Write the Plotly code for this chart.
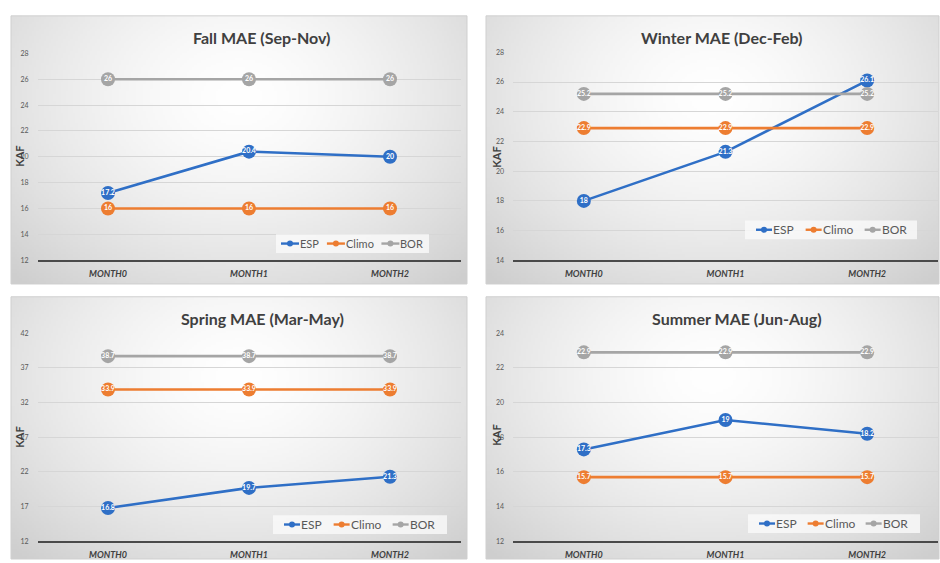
import base64
import struct
import zlib

import numpy as np
import plotly.graph_objects as go

# ---- data -------------------------------------------------------------
categories = ["MONTH0", "MONTH1", "MONTH2"]

fall_esp = [17.2, 20.4, 20]
fall_climo = [16, 16, 16]
fall_bor = [26, 26, 26]

winter_esp = [18, 21.3, 26.1]
winter_climo = [22.9, 22.9, 22.9]
winter_bor = [25.2, 25.2, 25.2]

spring_esp = [16.8, 19.7, 21.3]
spring_climo = [33.9, 33.9, 33.9]
spring_bor = [38.7, 38.7, 38.7]

summer_esp = [17.3, 19, 18.2]
summer_climo = [15.7, 15.7, 15.7]
summer_bor = [22.9, 22.9, 22.9]

series_names = ["ESP", "Climo", "BOR"]
series_colors = ["#2F6FC6", "#ED7D31", "#A5A5A5"]
# approximate text width of each legend label, in em
label_em = {"ESP": 1.72, "Climo": 2.5, "BOR": 1.92}

W, H = 940, 563
FONT = "Lato"


def px(x):
    return x / W


def py(y):
    return 1 - y / H


# ---- radial gradient used as panel background -------------------------
def gradient_png(w=188, h=112, edge=206):
    yy, xx = np.mgrid[0:h, 0:w]
    dx = (xx / (w - 1) - 0.5) / 0.72
    dy = (yy / (h - 1) - 0.3) / 0.95
    t = np.clip(np.sqrt(dx ** 2 + dy ** 2), 0, 1)
    val = (255 - (255 - edge) * t ** 1.5).astype(np.uint8)
    raw = b"".join(b"\x00" + bytes(np.repeat(row, 3)) for row in val)

    def chunk(tag, data):
        c = struct.pack(">I", len(data)) + tag + data
        return c + struct.pack(">I", zlib.crc32(tag + data) & 0xFFFFFFFF)

    png = b"\x89PNG\r\n\x1a\n"
    png += chunk(b"IHDR", struct.pack(">IIBBBBB", w, h, 8, 2, 0, 0, 0))
    png += chunk(b"IDAT", zlib.compress(raw, 9))
    png += chunk(b"IEND", b"")
    return "data:image/png;base64," + base64.b64encode(png).decode()


bg_src = gradient_png()

# panel geometry in pixels
panels = [
    dict(title="Fall MAE (Sep-Nov)", data=(fall_esp, fall_climo, fall_bor),
         box=(11, 11, 467, 283), xd=(37.5, 460.5), yd=(49, 259),
         tpos=(262, 33), kaf=(20, 154), yr=(12, 28), dt=2,
         leg=dict(box=(276, 429), yc=242, start=281, sym=18, fs=11, gap=9)),
    dict(title="Winter MAE (Dec-Feb)", data=(winter_esp, winter_climo, winter_bor),
         box=(486, 11, 939, 283), xd=(513, 938), yd=(48, 259),
         tpos=(722, 33), kaf=(497, 155), yr=(14, 28), dt=2,
         leg=dict(box=(745, 917), yc=228, start=756, sym=16, fs=12, gap=13)),
    dict(title="Spring MAE (Mar-May)", data=(spring_esp, spring_climo, spring_bor),
         box=(11, 296, 467, 562), xd=(37.5, 460.5), yd=(333, 544),
         tpos=(262, 318), kaf=(20, 439), yr=(12, 42), dt=5,
         leg=dict(box=(273, 447), yc=527, start=284, sym=16, fs=12, gap=13)),
    dict(title="Summer MAE (Jun-Aug)", data=(summer_esp, summer_climo, summer_bor),
         box=(486, 296, 939, 562), xd=(513, 938), yd=(333, 544),
         tpos=(737, 318), kaf=(497, 437), yr=(12, 24), dt=2,
         leg=dict(box=(748, 920), yc=526, start=759, sym=16, fs=12, gap=12)),
]

fig = go.Figure()
annotations = []
shapes = []
images = []
layout_axes = {}

for i, p in enumerate(panels):
    n = i + 1
    xa = "x" if n == 1 else f"x{n}"
    ya = "y" if n == 1 else f"y{n}"
    xkey = "xaxis" if n == 1 else f"xaxis{n}"
    ykey = "yaxis" if n == 1 else f"yaxis{n}"

    # plotted series
    for vals, name, color in zip(p["data"], series_names, series_colors):
        fig.add_trace(go.Scatter(
            x=categories, y=vals, name=name, xaxis=xa, yaxis=ya,
            mode="lines+markers+text", showlegend=False,
            line=dict(color=color, width=2.6),
            marker=dict(color=color, size=14),
            texttemplate="%{y}", textposition="middle center",
            textfont=dict(family=FONT, size=7, color="white", weight="bold"),
            cliponaxis=False, hoverinfo="x+y+name",
        ))

    ylo, yhi = p["yr"]
    layout_axes[xkey] = dict(
        domain=[px(p["xd"][0]), px(p["xd"][1])], anchor=ya,
        type="category", range=[-0.5, 2.5], fixedrange=True,
        tickvals=categories,
        ticktext=[f"<b><i>{c}</i></b>" for c in categories],
        tickfont=dict(family=FONT, size=9, color="#404040"),
        showgrid=False, showline=True, linecolor="#4a4a4a", linewidth=2,
        ticks="", zeroline=False, ticklabelstandoff=4,
    )
    layout_axes[ykey] = dict(
        domain=[py(p["yd"][1]), py(p["yd"][0])], anchor=xa,
        range=[ylo, yhi], dtick=p["dt"], tick0=ylo, fixedrange=True,
        tickfont=dict(family=FONT, size=7, color="#595959"),
        showgrid=True, gridcolor="#D6D6D6", gridwidth=1,
        zeroline=False, showline=False, ticks="", ticklabelstandoff=8,
    )

    x0, y0, x1, y1 = p["box"]
    images.append(dict(
        source=bg_src, xref="paper", yref="paper",
        x=px(x0), y=py(y0), sizex=px(x1) - px(x0), sizey=py(y0) - py(y1),
        xanchor="left", yanchor="top", sizing="stretch", layer="below",
    ))
    shapes.append(dict(
        type="rect", xref="paper", yref="paper",
        x0=px(x0), x1=px(x1), y0=py(y1), y1=py(y0),
        line=dict(color="#CFCFCF", width=1), fillcolor="rgba(0,0,0,0)",
        layer="below",
    ))
    annotations.append(dict(
        text=f"<b>{p['title']}</b>", xref="paper", yref="paper",
        x=px(p["tpos"][0]), y=py(p["tpos"][1]),
        xanchor="center", yanchor="middle", showarrow=False,
        font=dict(family=FONT, size=16, color="#404040"),
    ))
    annotations.append(dict(
        text="<b>KAF</b>", xref="paper", yref="paper",
        x=px(p["kaf"][0]), y=py(p["kaf"][1]), textangle=-90,
        xanchor="center", yanchor="middle", showarrow=False,
        font=dict(family=FONT, size=11, color="#404040"),
    ))

    # legend box with line-and-marker keys
    lg = p["leg"]
    yc = lg["yc"]
    shapes.append(dict(
        type="rect", xref="paper", yref="paper",
        x0=px(lg["box"][0]), x1=px(lg["box"][1]), y0=py(yc + 9.5), y1=py(yc - 9.5),
        line=dict(width=0), fillcolor="rgba(250,250,250,0.8)", layer="above",
    ))
    cx = lg["start"]
    for name, color in zip(series_names, series_colors):
        shapes.append(dict(
            type="line", xref="paper", yref="paper",
            x0=px(cx), x1=px(cx + lg["sym"]), y0=py(yc), y1=py(yc),
            line=dict(color=color, width=2.4), layer="above",
        ))
        mid = cx + lg["sym"] / 2
        shapes.append(dict(
            type="circle", xref="paper", yref="paper",
            x0=px(mid - 3), x1=px(mid + 3), y0=py(yc + 3), y1=py(yc - 3),
            line=dict(width=0), fillcolor=color, layer="above",
        ))
        annotations.append(dict(
            text=name, xref="paper", yref="paper",
            x=px(cx + lg["sym"]), y=py(yc), xanchor="left", yanchor="middle",
            showarrow=False, xshift=-1,
            font=dict(family=FONT, size=lg["fs"], color="#595959"),
        ))
        cx += lg["sym"] + label_em[name] * lg["fs"] + lg["gap"]

fig.update_layout(
    width=W, height=H, margin=dict(l=0, r=0, t=0, b=0),
    paper_bgcolor="white", plot_bgcolor="rgba(0,0,0,0)",
    font=dict(family=FONT), showlegend=False,
    annotations=annotations, shapes=shapes, images=images,
    **layout_axes,
)

fig.write_html("out.html")
